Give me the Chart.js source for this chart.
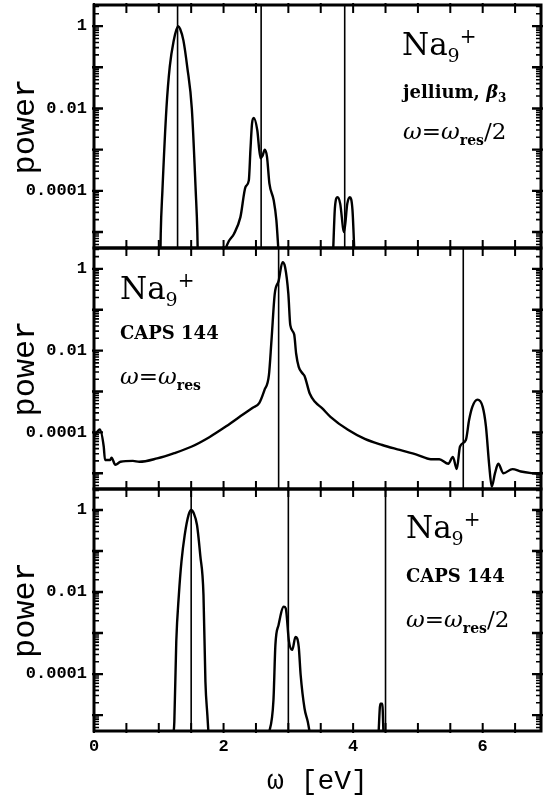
<!DOCTYPE html>
<html><head><meta charset="utf-8">
<script src="https://cdn.jsdelivr.net/npm/chart.js@4.4.1/dist/chart.umd.min.js"></script>
<style>
html,body{margin:0;padding:0;background:#fff;}
body{width:545px;height:798px;position:relative;overflow:hidden;}
.box{position:absolute;left:0;width:545px;}
.box canvas{display:block;}
.lab{position:absolute;font-family:"DejaVu Serif",serif;color:#000;white-space:nowrap;line-height:1;}
.na{font-size:31px;}
.na .s9{font-size:19px;position:relative;top:7px;}
.na .sp{font-size:20px;position:relative;top:-12px;}
.bd{font-size:18px;font-weight:bold;}
.bd .s3{font-size:12px;position:relative;top:4px;}
.om{font-size:23px;}
.om i{font-style:italic;}
.om .res{font-size:14px;font-weight:bold;position:relative;top:6px;}
</style>
</head><body>
<div class="box" style="top:0px;height:250px"><canvas id="c1" width="545" height="250" style="width:545px;height:250px"></canvas></div>
<div class="box" style="top:246px;height:245px"><canvas id="c2" width="545" height="245" style="width:545px;height:245px"></canvas></div>
<div class="box" style="top:487px;height:311px"><canvas id="c3" width="545" height="311" style="width:545px;height:311px"></canvas></div>

<div class="lab na" style="left:402px;top:29px">Na<span class="s9">9</span><span class="sp">+</span></div>
<div class="lab bd" style="left:403px;top:83px">jellium, <i>β</i><span class="s3">3</span></div>
<div class="lab om" style="left:403px;top:120px"><i>ω</i>=<i>ω</i><span class="res">res</span>/2</div>

<div class="lab na" style="left:120px;top:273px">Na<span class="s9">9</span><span class="sp">+</span></div>
<div class="lab bd" style="left:120px;top:324px">CAPS 144</div>
<div class="lab om" style="left:120px;top:365px"><i>ω</i>=<i>ω</i><span class="res">res</span></div>

<div class="lab na" style="left:406px;top:512px">Na<span class="s9">9</span><span class="sp">+</span></div>
<div class="lab bd" style="left:406px;top:567px">CAPS 144</div>
<div class="lab om" style="left:406px;top:608px"><i>ω</i>=<i>ω</i><span class="res">res</span>/2</div>

<script>
// ---- data ----
const xTickValues = [0, 2, 4, 6];
const xTickLabels = ['0', '2', '4', '6'];
const yTickValues = [1, 0.01, 0.0001];
const yTickLabels = ['1', '0.01', '0.0001'];

// top panel: jellium, beta3, omega = omega_res/2
const topOmega = [1.01, 1.03, 1.056, 1.118, 1.17, 1.235, 1.27, 1.30, 1.33, 1.38, 1.44, 1.51, 1.57, 1.595, 1.62,
  1.8,
  2.0, 2.08, 2.16, 2.26, 2.34, 2.39, 2.415, 2.44, 2.466, 2.52, 2.57, 2.60, 2.636, 2.67, 2.708, 2.774, 2.815, 2.85,
  3.2,
  3.69, 3.72, 3.76, 3.80, 3.86, 3.91, 3.95, 3.99, 4.02];
const topPower = [1e-7, 9e-6, 1e-4, 1e-2, 0.105, 0.48, 0.8, 1.0, 0.85, 0.45, 0.1, 0.01, 1e-4, 1e-5, 1e-7,
  null,
  3e-6, 6e-6, 9e-6, 2.3e-5, 1.26e-4, 1.8e-4, 1e-3, 4.4e-3, 5.9e-3, 3e-3, 6.2e-4, 7e-4, 1e-3, 6.8e-4, 1.5e-4, 5.9e-5, 1.95e-5, 3e-6,
  null,
  3e-6, 4.1e-5, 7e-5, 4.9e-5, 1e-5, 4.9e-5, 7e-5, 3.4e-5, 3e-6];
const topResonances = [1.29, 2.58, 3.87];

// middle panel: CAPS 144, omega = omega_res
const midOmega = [0.0, 0.09, 0.15, 0.17, 0.25, 0.27, 0.33, 0.41, 0.60, 0.70, 0.975, 1.24, 1.51, 1.78, 2.04, 2.31, 2.45, 2.55,
  2.63, 2.70, 2.74, 2.79, 2.85, 2.91, 2.95, 3.00, 3.03, 3.09, 3.12, 3.16, 3.22, 3.25, 3.33, 3.41, 3.52, 3.65, 3.92,
  4.18, 4.45, 4.72, 4.99, 5.20, 5.33, 5.47, 5.54, 5.60, 5.65, 5.74, 5.79, 5.84, 5.92, 6.00, 6.05, 6.10, 6.14, 6.19,
  6.24, 6.32, 6.46, 6.59, 6.75, 6.9];
const midPower = [7.8e-5, 1.17e-4, 4.5e-5, 2.1e-5, 2.1e-5, 2.4e-5, 1.6e-5, 1.9e-5, 2.0e-5, 1.9e-5, 2.3e-5, 3.1e-5, 4.5e-5, 7.6e-5, 1.4e-4, 2.8e-4, 4.0e-4, 5.2e-4,
  1.07e-3, 2.5e-3, 1.8e-2, 0.245, 0.51, 1.45, 1.1, 0.245, 0.042, 0.025, 8.5e-3, 4e-3, 2.75e-3, 2.4e-3, 8.9e-4, 5.6e-4, 3.9e-4, 2.4e-4, 1.15e-4,
  6.9e-5, 4.9e-5, 3.7e-5, 2.8e-5, 2.2e-5, 2.2e-5, 1.7e-5, 2.5e-5, 1.26e-5, 4.5e-5, 6.5e-5, 2e-4, 4.2e-4, 6.3e-4, 4.2e-4, 1.4e-4, 1.6e-5, 4.7e-6, 1e-5,
  1.7e-5, 1e-5, 1.26e-5, 1.1e-5, 1e-5, 9.5e-6];
const midResonances = [2.85, 5.70];

// bottom panel: CAPS 144, omega = omega_res/2
const botOmega = [1.22, 1.24, 1.27, 1.31, 1.35, 1.40, 1.46, 1.50, 1.54, 1.59, 1.64, 1.69, 1.72, 1.75, 1.77,
  2.2,
  2.69, 2.77, 2.80, 2.85, 2.93, 2.96, 3.01, 3.06, 3.11, 3.16, 3.19, 3.25, 3.30, 3.34,
  3.9,
  4.39, 4.42, 4.45, 4.47];
const botPower = [3e-6, 6.9e-6, 6.2e-4, 8.5e-3, 0.055, 0.245, 0.76, 1.0, 0.83, 0.43, 0.079, 8.5e-3, 6.5e-5, 1e-5, 3e-6,
  null,
  3e-6, 2.3e-5, 5.1e-4, 1.6e-3, 4.4e-3, 4e-3, 6.2e-4, 3.9e-4, 8e-4, 4.7e-4, 9.5e-5, 1.45e-5, 6.9e-6, 3e-6,
  null,
  3e-6, 1.9e-5, 1.9e-5, 3e-6];
const botResonances = [1.5, 3.0, 4.5];

// ---- chart setup ----
const X_MIN = 0, X_MAX = 6.9;
const Y_MIN = 4.1e-6, Y_MAX = 3.25;

const framePlugin = {
  id: 'frame',
  afterDatasetsDraw(chart) {
    const {ctx, chartArea: a, scales: {x, y}} = chart;
    ctx.save();
    ctx.strokeStyle = '#000';
    ctx.lineCap = 'butt';
    ctx.lineWidth = 2;
    for (let k = 0; k * 0.5 <= X_MAX; k++) {
      const px = x.getPixelForValue(k * 0.5);
      ctx.beginPath();
      ctx.moveTo(px, a.bottom + 2); ctx.lineTo(px, a.bottom - 8);
      ctx.moveTo(px, a.top - 2); ctx.lineTo(px, a.top + 8);
      ctx.stroke();
    }
    for (let e = -6; e <= 1; e++) {
      for (let m = 1; m <= 9; m++) {
        const v = m * Math.pow(10, e);
        if (v < y.min || v > y.max) continue;
        const py = y.getPixelForValue(v);
        const L = m === 1 ? 9 : 5;
        ctx.lineWidth = m === 1 ? 2.4 : 1.6;
        ctx.beginPath();
        ctx.moveTo(a.left - (m === 1 ? 2 : 0), py); ctx.lineTo(a.left + L, py);
        ctx.moveTo(a.right + (m === 1 ? 2 : 0), py); ctx.lineTo(a.right - L, py);
        ctx.stroke();
      }
    }
    ctx.lineWidth = 3;
    ctx.strokeRect(a.left, a.top, a.right - a.left, a.bottom - a.top);
    ctx.restore();
  }
};

function makeChart(id, omega, power, resonances, isBottom, padding) {
  const curve = omega.map((w, i) => ({x: w, y: power[i]}));
  const datasets = [{
    data: curve, borderColor: '#000', borderWidth: 2.4, pointRadius: 0,
    cubicInterpolationMode: 'monotone', spanGaps: false, clip: 0
  }];
  resonances.forEach(w => datasets.push({
    data: [{x: w, y: Y_MIN}, {x: w, y: Y_MAX}], borderColor: '#000', borderWidth: 1.6,
    pointRadius: 0, clip: 0
  }));
  return new Chart(document.getElementById(id), {
    type: 'line',
    data: {datasets},
    plugins: [framePlugin],
    options: {
      responsive: false, maintainAspectRatio: false, animation: false, devicePixelRatio: 1,
      layout: {padding},
      plugins: {legend: {display: false}, tooltip: {enabled: false}},
      scales: {
        x: {
          type: 'linear', min: X_MIN, max: X_MAX, display: isBottom,
          afterBuildTicks: s => { s.ticks = xTickValues.map(v => ({value: v})); },
          afterFit: s => {
            s.paddingLeft = 0; s.paddingRight = 0;
            if (isBottom) s.height = 67;
          },
          ticks: {
            callback: (v, i) => xTickLabels[i], autoSkip: false, maxRotation: 0, padding: 6,
            color: '#000', font: {family: 'Liberation Mono', weight: 'bold', size: 17}
          },
          grid: {display: false, drawTicks: false}, border: {display: false},
          title: {display: true, text: 'ω [eV]', color: '#000', padding: {top: 0, bottom: 0},
            font: {family: 'Liberation Mono', size: 28}}
        },
        y: {
          type: 'logarithmic', min: Y_MIN, max: Y_MAX,
          afterBuildTicks: s => { s.ticks = yTickValues.map(v => ({value: v})); },
          afterFit: s => { s.width = 94; s.paddingTop = 0; s.paddingBottom = 0; },
          ticks: {
            callback: (v, i) => yTickLabels[i], autoSkip: false, padding: 7,
            color: '#000', font: {family: 'Liberation Mono', weight: 'bold', size: 17}
          },
          grid: {display: false, drawTicks: false}, border: {display: false},
          title: {display: true, text: 'power', color: '#000', padding: {top: 6, bottom: 0},
            font: {family: 'Liberation Mono', size: 32}}
        }
      }
    }
  });
}

makeChart('c1', topOmega, topPower, topResonances, false, {top: 5, right: 4, bottom: 2, left: 0});
makeChart('c2', midOmega, midPower, midResonances, false, {top: 2, right: 4, bottom: 2, left: 0});
makeChart('c3', botOmega, botPower, botResonances, true, {top: 2, right: 4, bottom: 0, left: 0});
</script>
</body></html>
